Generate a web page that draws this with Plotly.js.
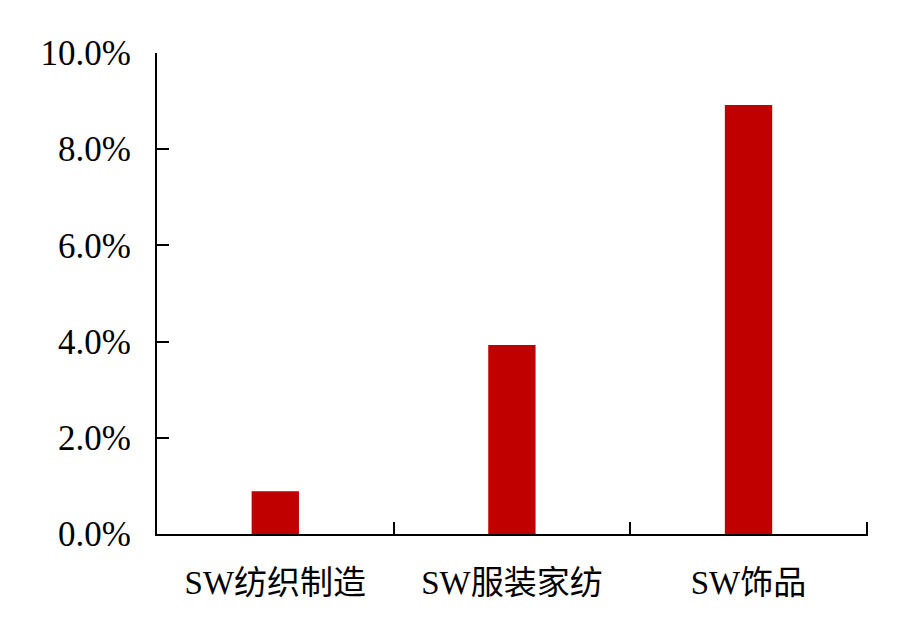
<!DOCTYPE html>
<html>
<head>
<meta charset="utf-8">
<script src="https://cdn.plot.ly/plotly-3.0.1.min.js"></script>
<style>
  html, body { margin: 0; padding: 0; background: #fff; }
  #chart { width: 919px; height: 639px; }
</style>
</head>
<body>
<div id="chart"></div>
<script>
const categories = ["SW纺织制造", "SW服装家纺", "SW饰品"];
const returns = [0.89, 3.93, 8.92];
const yTicks = [0, 2, 4, 6, 8, 10];
const yTickLabels = ["0.0%", "2.0%", "4.0%", "6.0%", "8.0%", "10.0%"];

const font = "Liberation Serif, Noto Sans CJK SC, serif";

const trace = {
  x: categories,
  y: returns,
  type: "bar",
  marker: { color: "#C00000" },
  hoverinfo: "x+y",
};

const layout = {
  width: 919,
  height: 639,
  margin: { l: 157, r: 51, t: 53, b: 105 },
  paper_bgcolor: "#fff",
  plot_bgcolor: "#fff",
  showlegend: false,
  bargap: 0.8,
  font: { family: font, size: 33, color: "#000" },
  xaxis: {
    type: "category",
    range: [-0.5, 2.505],
    showline: true,
    linecolor: "#000",
    linewidth: 2,
    ticks: "inside",
    tickson: "boundaries",
    ticklen: 12,
    tickwidth: 2,
    tickcolor: "#000",
    showgrid: false,
    zeroline: false,
    ticklabelstandoff: 18,
    tickfont: { family: font, size: 33 },
  },
  yaxis: {
    range: [0, 10],
    showline: true,
    linecolor: "#000",
    linewidth: 2,
    ticks: "inside",
    ticklen: 12,
    tickwidth: 2,
    tickcolor: "#000",
    tickvals: yTicks,
    ticktext: yTickLabels,
    showgrid: false,
    zeroline: false,
    ticklabelstandoff: 17,
    tickfont: { family: font, size: 35 },
  },
};

Plotly.newPlot("chart", [trace], layout, { staticPlot: true });
</script>
</body>
</html>
